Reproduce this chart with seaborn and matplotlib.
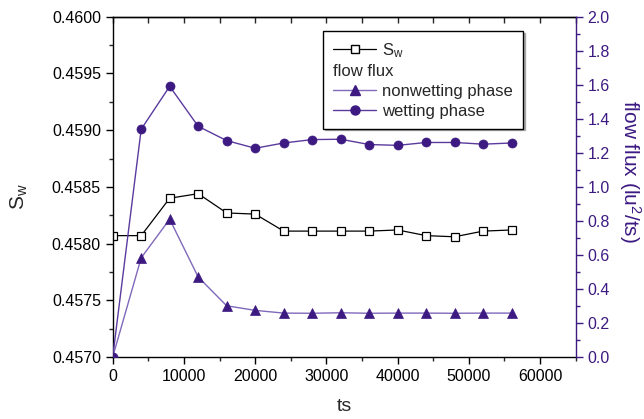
import numpy as np
import pandas as pd
import matplotlib
matplotlib.use("Agg")
import matplotlib.pyplot as plt
from matplotlib.lines import Line2D
from matplotlib.ticker import MultipleLocator, FormatStrFormatter
import seaborn as sns

# ---- data ----
ts = [0, 4000, 8000, 12000, 16000, 20000, 24000, 28000, 32000, 36000,
      40000, 44000, 48000, 52000, 56000]
sw = [0.45807, 0.45807, 0.45840, 0.45844, 0.45827, 0.45826, 0.45811, 0.45811,
      0.45811, 0.45811, 0.45812, 0.45807, 0.45806, 0.45811, 0.45812]
nonwetting = [0.0, 0.583, 0.810, 0.470, 0.301, 0.274, 0.258, 0.257, 0.260,
              0.257, 0.258, 0.258, 0.257, 0.258, 0.258]
wetting = [0.0, 1.339, 1.591, 1.356, 1.272, 1.227, 1.258, 1.278, 1.280,
           1.249, 1.244, 1.261, 1.261, 1.251, 1.258]

df = pd.DataFrame({"ts": ts, "Sw": sw, "nonwetting": nonwetting, "wetting": wetting})

sns.set_style("ticks")
plt.rcParams["font.family"] = ["Liberation Sans", "DejaVu Sans"]
plt.rcParams["mathtext.fontset"] = "custom"
plt.rcParams["mathtext.rm"] = "Liberation Sans"
plt.rcParams["mathtext.it"] = "Liberation Sans"

purple = "#3d1a82"
purple_line = "#5b3a9e"
purple_light = "#8068bb"

fig = plt.figure(figsize=(6.44, 4.19), dpi=100)
ax = fig.add_axes([0.175, 0.148, 0.719, 0.812])
ax2 = ax.twinx()

sns.lineplot(data=df, x="ts", y="Sw", ax=ax, color="black", lw=0.9,
             marker="s", markersize=5.5, markerfacecolor="white",
             markeredgecolor="black", markeredgewidth=0.9)
sns.lineplot(data=df, x="ts", y="nonwetting", ax=ax2, color=purple_light, lw=1.0,
             marker="^", markersize=7, markerfacecolor=purple,
             markeredgecolor=purple, markeredgewidth=0.5)
sns.lineplot(data=df, x="ts", y="wetting", ax=ax2, color=purple_line, lw=1.0,
             marker="o", markersize=6.5, markerfacecolor=purple,
             markeredgecolor=purple, markeredgewidth=0.5)

ax.set_xlim(0, 65000)
ax.set_ylim(0.4570, 0.4600)
ax2.set_ylim(0.0, 2.0)

ax.xaxis.set_major_locator(MultipleLocator(10000))
ax.xaxis.set_minor_locator(MultipleLocator(5000))
ax.yaxis.set_major_locator(MultipleLocator(0.0005))
ax.yaxis.set_minor_locator(MultipleLocator(0.00025))
ax.yaxis.set_major_formatter(FormatStrFormatter("%.4f"))
ax2.yaxis.set_major_locator(MultipleLocator(0.2))
ax2.yaxis.set_minor_locator(MultipleLocator(0.1))
ax2.yaxis.set_major_formatter(FormatStrFormatter("%.1f"))

fs_tick = 11.5
ax.tick_params(axis="both", which="major", direction="out", length=5, width=1,
               labelsize=fs_tick, color="black", labelcolor="black")
ax.tick_params(axis="both", which="minor", direction="out", length=3, width=1)
ax.tick_params(axis="x", pad=4)
ax2.tick_params(axis="y", which="major", direction="out", length=5, width=1,
                labelsize=fs_tick, color=purple, labelcolor=purple)
ax2.tick_params(axis="y", which="minor", direction="out", length=3, width=1,
                color=purple)

# top ticks pointing inward
sec = ax.secondary_xaxis("top")
sec.xaxis.set_major_locator(MultipleLocator(10000))
sec.xaxis.set_minor_locator(MultipleLocator(5000))
sec.tick_params(axis="x", which="both", direction="in", length=4, width=1,
                labeltop=False)
sec.spines["top"].set_linewidth(1)

for sp in ["left", "bottom", "top"]:
    ax.spines[sp].set_visible(True)
    ax.spines[sp].set_linewidth(1)
    ax.spines[sp].set_color("black")
ax.spines["right"].set_visible(False)
for sp in ["left", "bottom", "top"]:
    ax2.spines[sp].set_visible(False)
ax2.spines["right"].set_visible(True)
ax2.spines["right"].set_color(purple)
ax2.spines["right"].set_linewidth(1)

ax.set_xlabel("ts", fontsize=14, labelpad=10)
ax.set_ylabel(r"S$_\mathrm{w}$", fontsize=15)
ax.yaxis.set_label_coords(-0.178, 0.47)
ax2.set_ylabel(r"flow flux (lu$^2$/ts)", fontsize=15, color=purple,
               rotation=270, va="center", ha="center")
ax2.yaxis.set_label_coords(1.118, 0.545)

# legend
fs_leg = 12
handles = [
    Line2D([], [], color="black", lw=0.9, marker="s", markersize=5.5,
           markerfacecolor="white", markeredgecolor="black"),
    Line2D([], [], color="none", lw=0),
    Line2D([], [], color=purple_light, lw=1.0, marker="^", markersize=7,
           markerfacecolor=purple, markeredgecolor=purple),
    Line2D([], [], color=purple_line, lw=1.0, marker="o", markersize=6.5,
           markerfacecolor=purple, markeredgecolor=purple),
]
labels = [r"S$_\mathrm{w}$", "flow flux", "nonwetting phase", "wetting phase"]
hl, htp = 2.6, 0.36
leg = ax2.legend(handles, labels, loc="upper right",
                 bbox_to_anchor=(0.886, 0.958), borderaxespad=0,
                 fontsize=fs_leg, frameon=True, fancybox=False,
                 edgecolor="black", framealpha=1, handlelength=hl,
                 handletextpad=htp, labelspacing=0.28, borderpad=0.6,
                 shadow={"ox": 1.2, "oy": -1.2, "color": "0.45"})
leg.get_frame().set_linewidth(1.0)
shift = (hl + htp) * fs_leg * fig.dpi / 72.0
leg.get_texts()[1].set_x(-shift)

fig.savefig("out.png", dpi=100)
